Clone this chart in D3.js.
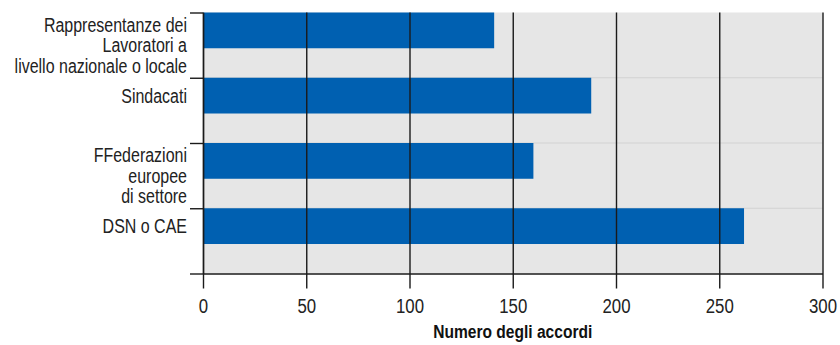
<!DOCTYPE html>
<html>
<head>
<meta charset="utf-8">
<script src="https://cdn.jsdelivr.net/npm/d3@7"></script>
<style>
  body { margin: 0; background: #fff; }
  svg text { font-family: "Liberation Sans", Arial, sans-serif; }
</style>
</head>
<body>
<div id="chart"></div>
<script>
// dati del grafico
const categorie = [
    "Rappresentanze dei\nLavoratori a\nlivello nazionale o locale",
    "Sindacati",
    "FFederazioni\neuropee\ndi settore",
    "DSN o CAE"
];
const valori = [141, 188, 160, 262];
const tickX = [0, 50, 100, 150, 200, 250, 300];
const titoloX = "Numero degli accordi";

// fattore di compressione orizzontale (carattere "narrow")
const NARROW = 0.82;

function drawChart(container) {
    d3.select(container).html("");

    const W = 840, H = 345;
    const left = 203, right = 822.5, top = 12.5, bottom = 273.5;

    const svg = d3.select(container)
        .append("svg")
        .attr("width", W)
        .attr("height", H);

    // scale
    const x = d3.scaleLinear()
        .domain([0, 300])
        .range([left, right]);

    const y = d3.scaleBand()
        .domain(categorie)
        .range([top, bottom])
        .padding(0);

    // scala per i bordi delle fasce (tacche asse Y)
    const yEdge = d3.scaleLinear()
        .domain([0, categorie.length])
        .range([top, bottom]);

    const barH = y.bandwidth() * 0.548;

    // sfondo grigio
    svg.append("rect")
        .attr("x", x(0))
        .attr("y", top)
        .attr("width", x(300) - x(0))
        .attr("height", bottom - top)
        .attr("fill", "#e6e6e6");

    // linee orizzontali chiare tra le fasce
    svg.selectAll(".hgrid")
        .data(d3.range(1, categorie.length))
        .enter().append("line")
        .attr("class", "hgrid")
        .attr("x1", x(0))
        .attr("x2", x(300))
        .attr("y1", d => yEdge(d))
        .attr("y2", d => yEdge(d))
        .attr("stroke", "#d2d2d2")
        .attr("stroke-width", 1);

    // barre
    svg.selectAll(".bar")
        .data(valori)
        .enter().append("rect")
        .attr("class", "bar")
        .attr("x", x(0))
        .attr("y", (d, i) => y(categorie[i]))
        .attr("width", d => x(d) - x(0))
        .attr("height", barH)
        .attr("fill", "#0060b1");

    // asse X con griglia verticale
    const xAxis = svg.append("g")
        .attr("transform", `translate(0, ${bottom})`)
        .call(d3.axisBottom(x)
            .tickValues(tickX)
            .tickSize(15)
            .tickSizeOuter(0)
            .tickPadding(10));

    xAxis.select(".domain")
        .attr("stroke", "#1a1a1a")
        .attr("stroke-width", 1.4);

    xAxis.selectAll(".tick line")
        .attr("y1", -(bottom - top))
        .attr("stroke", "#1a1a1a")
        .attr("stroke-width", 1.4);

    xAxis.selectAll(".tick text")
        .attr("fill", "#222")
        .attr("transform", `scale(${NARROW},1)`)
        .style("font-size", "20.5px");

    // asse Y: tacche sui bordi delle fasce
    const yAxis = svg.append("g")
        .attr("transform", `translate(${left}, 0)`)
        .call(d3.axisLeft(yEdge)
            .tickValues(d3.range(0, categorie.length + 1))
            .tickSize(13)
            .tickSizeOuter(0)
            .tickFormat(""));

    yAxis.selectAll(".domain, .tick line")
        .attr("stroke", "#1a1a1a")
        .attr("stroke-width", 1.4);

    // etichette delle categorie
    const lineH = 20.5;
    categorie.forEach((c, i) => {
        const righe = c.split("\n");
        const cy = righe.length > 1
            ? y(c) + y.bandwidth() / 2
            : y(c) + barH / 2;
        const t = svg.append("text")
            .attr("transform", `translate(187, 0) scale(${NARROW},1)`)
            .attr("text-anchor", "end")
            .attr("fill", "#222")
            .style("font-size", "19.5px");
        righe.forEach((r, j) => {
            t.append("tspan")
                .attr("x", 0)
                .attr("y", cy + (j - (righe.length - 1) / 2) * lineH + 7)
                .text(r);
        });
    });

    // titolo asse X
    svg.append("text")
        .attr("transform", `translate(${(left + right) / 2}, 338) scale(${NARROW},1)`)
        .attr("text-anchor", "middle")
        .attr("fill", "#111")
        .style("font-size", "19px")
        .style("font-weight", "bold")
        .text(titoloX);
}

drawChart("#chart");
</script>
</body>
</html>
